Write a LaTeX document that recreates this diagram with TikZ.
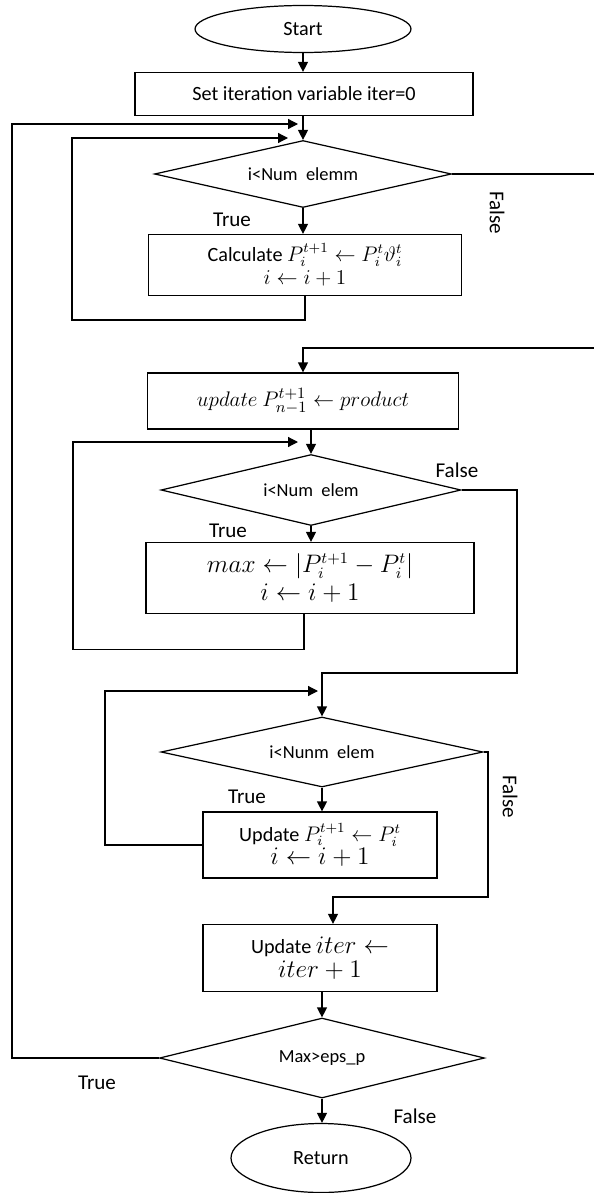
\documentclass[tikz,border=0pt]{standalone}
\usepackage{fontspec}
\setmainfont{Carlito}
\usetikzlibrary{shapes.geometric,arrows.meta}

\newcommand{\bigmath}{\fontsize{13.5}{16}\selectfont}
\tikzset{
  box/.style={draw, rectangle, align=center, inner sep=2pt},
  test/.style={draw, diamond, inner sep=0pt, font=\fontsize{10.5}{12}\selectfont},
  term/.style={draw, ellipse, inner sep=0pt},
  arr/.style={-{Triangle[length=2mm,width=2mm]}},
  yes/.style={font=\fontsize{12}{14}\selectfont, fill=white, inner sep=1pt},
}

\begin{document}
\begin{tikzpicture}[x=0.02cm, y=-0.02cm, line width=0.7pt,
    every node/.style={font=\fontsize{11.5}{13.5}\selectfont}]
  \useasboundingbox (0,0) rectangle (593,1193);

  % start and init
  \node[term, minimum width=4.32cm, minimum height=0.94cm] (start) at (303,29) {Start};
  \node[box, minimum width=6.76cm, minimum height=0.86cm] (init) at (304,94)
    {Set iteration variable iter=0};

  % first loop: product of the elements
  \node[test, aspect=4.43, minimum width=5.94cm, minimum height=1.34cm] (cond1) at (303,174)
    {i<Num\ \ elemm};
  \node[box, minimum width=6.26cm, minimum height=1.22cm] (calc) at (305,265)
    {Calculate $P_i^{t+1} \leftarrow P_i^t \vartheta_i^t$\\ $i \leftarrow i+1$};
  \node[box, minimum width=6.22cm, minimum height=1.12cm, font=\fontsize{12.5}{15}\selectfont]
    (prod) at (303,401) {$update\ P_{n-1}^{t+1} \leftarrow product$};

  % second loop: largest change
  \node[test, aspect=4.23, minimum width=6cm, minimum height=1.42cm] (cond2) at (311,490)
    {i<Num\ \ elem};
  \node[box, minimum width=6.56cm, minimum height=1.42cm, font=\bigmath] (maxd) at (310,578)
    {$max \leftarrow \left|P_i^{t+1} - P_i^t\right|$\\ $i \leftarrow i+1$};

  % third loop: copy back
  \node[test, aspect=4.6, minimum width=6.44cm, minimum height=1.4cm] (cond3) at (322,752)
    {i<Nunm\ \ elem};
  \node[box, minimum width=4.68cm, minimum height=1.32cm] (copy) at (320,845)
    {Update $P_i^{t+1} \leftarrow P_i^t$\\ \bigmath $i \leftarrow i+1$};
  \node[box, minimum width=4.68cm, minimum height=1.34cm] (next) at (320,958)
    {Update {\bigmath $iter \leftarrow$}\\ \bigmath $iter + 1$};

  % convergence test
  \node[test, aspect=4.06, minimum width=6.5cm, minimum height=1.6cm] (conv) at (322,1058)
    {Max>eps\_p};
  \node[term, minimum width=3.6cm, minimum height=1.38cm] (ret) at (321,1158) {Return};

  % straight arrows
  \draw[arr] (start) -- (start |- init.north);
  \draw[arr] (init.south -| cond1.north) -- (cond1.north);
  \draw[arr] (cond1.south) -- (cond1.south |- calc.north);
  \draw[arr] (prod.south -| cond2.north) -- (cond2.north);
  \draw[arr] (cond2.south) -- (cond2.south |- maxd.north);
  \draw[arr] (cond3.south) -- (cond3.south |- copy.north);
  \draw[arr] (next.south -| conv.north) -- (conv.north);
  \draw[arr] (conv.south) -- (conv.south |- ret.north);

  % loop backs
  \draw[arr] (calc.south) -- ++(0,24) -| (72,138) -- (288,138);
  \draw[arr] ([xshift=-0.12cm]maxd.south) -- ++(0,35) -| (73,442) -- (298,442);
  \draw[arr] (copy.west) -| (105,691) -- (318,691);
  \draw[arr] (conv.west) -| (12,124) -- (298,124);

  % false exits
  \draw[arr] (cond1.east) -| (596,348) -| (prod.north);
  \draw[arr] (cond2.east) -| (517,673) -| (cond3.north);
  \draw[arr] (cond3.east) -| (488,897) -| ([xshift=0.26cm]next.north);

  % branch labels
  \node[yes] (t1) at (232,220) {True};
  \node[yes, rotate=-90] (f1) at (497,213) {False};
  \node[yes] (f2) at (457,470) {False};
  \node[yes] (t2) at (228,531) {True};
  \node[yes, rotate=-90] (f3) at (510,797) {False};
  \node[yes] (t3) at (247,797) {True};
  \node[yes] (t4) at (97,1083) {True};
  \node[yes] (f4) at (415,1116) {False};
\end{tikzpicture}
\end{document}
